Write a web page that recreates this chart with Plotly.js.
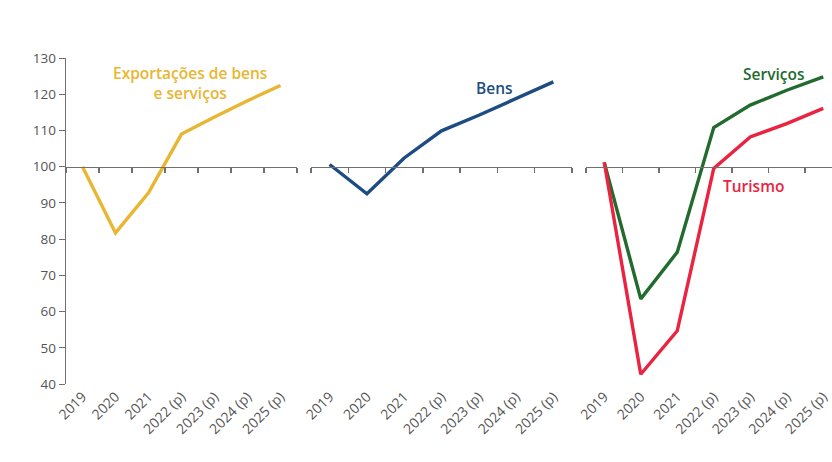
<!DOCTYPE html>
<html><head><meta charset="utf-8">
<script src="https://cdn.plot.ly/plotly-3.0.1.min.js"></script>
<style>html,body{margin:0;padding:0;background:#fff;}#chart{width:832px;height:462px;}</style>
</head><body><div id="chart"></div>
<script>
const categories = ["2019","2020","2021","2022 (p)","2023 (p)","2024 (p)","2025 (p)"];
const exportacoes = [100, 81.7, 92.8, 109, 113.7, 118.2, 122.4];
const bens = [100.6, 92.5, 102.4, 109.9, 114.2, 118.8, 123.4];
const servicos = [101.2, 63.5, 76.4, 110.8, 117, 121.1, 124.8];
const turismo = [101.2, 42.7, 54.7, 99.5, 108.2, 111.9, 116.1];
const yTicks = [40,50,60,70,80,90,100,110,120,130];

const colors = {exp:"#E8B632", bens:"#1D4C82", serv:"#226A2E", tur:"#EA2340"};
const W = 832, H = 462;
const plotTop = 58, plotBottom = 384;
const yRange = [40, 130];
const baseline = 100;
const axPos = (baseline - yRange[0])/(yRange[1]-yRange[0]);

function tr(y, xa, color, name){
  return {x: categories, y: y, xaxis: xa, yaxis: "y", type: "scatter", mode: "lines",
    name: name, line: {color: color, width: 3.4}, hoverinfo: "skip", showlegend: false};
}
const data = [
  tr(exportacoes, "x", colors.exp, "Exportações de bens e serviços"),
  tr(bens, "x2", colors.bens, "Bens"),
  tr(servicos, "x3", colors.serv, "Serviços"),
  tr(turismo, "x3", colors.tur, "Turismo")
];

function xax(domPx, range){
  return {domain: [domPx[0]/W, domPx[1]/W], type: "category", categoryarray: categories,
    categoryorder: "array", range: range, anchor: "free", position: axPos,
    showline: true, linecolor: "#707070", linewidth: 1.4, ticks: "outside", tickson: "boundaries",
    ticklen: 5, tickcolor: "#707070", tickwidth: 1.3, showgrid: false, zeroline: false,
    tickangle: -45, ticklabelstandoff: 215,
    tickfont: {family: "Open Sans", size: 14, color: "#555"}, fixedrange: true, automargin: false};
}

const annFont = (c) => ({family: "Open Sans", size: 15.5, color: c, weight: 600});

const layout = {
  width: W, height: H,
  margin: {l: 0, r: 0, t: plotTop, b: H - plotBottom},
  paper_bgcolor: "#fff", plot_bgcolor: "rgba(0,0,0,0)",
  showlegend: false,
  xaxis: xax([66, 297], [-0.5, 6.5]),
  xaxis2: xax([311, 572], [-0.5, 6.5]),
  xaxis3: xax([586, 832], [-0.5, 6.24]),
  yaxis: {range: yRange, tickvals: yTicks, showline: true, linecolor: "#707070", linewidth: 1.4,
    ticks: "outside", ticklen: 6, tickcolor: "#707070", showgrid: false, zeroline: false,
    tickfont: {family: "Open Sans", size: 13.5, color: "#555"}, automargin: false, fixedrange: true},
  annotations: [
    {xref: "x", yref: "y", x: 3.26, y: 123.2, text: "Exportações de bens<br>e serviços", showarrow: false,
     font: annFont(colors.exp), align: "center"},
    {xref: "x2", yref: "y", x: 4.42, y: 121.8, text: "Bens", showarrow: false, font: annFont(colors.bens)},
    {xref: "x3", yref: "y", x: 4.65, y: 125.7, text: "Serviços", showarrow: false, font: annFont(colors.serv)},
    {xref: "x3", yref: "y", x: 4.08, y: 94.75, text: "Turismo", showarrow: false, font: annFont(colors.tur)}
  ]
};
Plotly.newPlot("chart", data, layout, {displayModeBar: false, staticPlot: true});
</script></body></html>
